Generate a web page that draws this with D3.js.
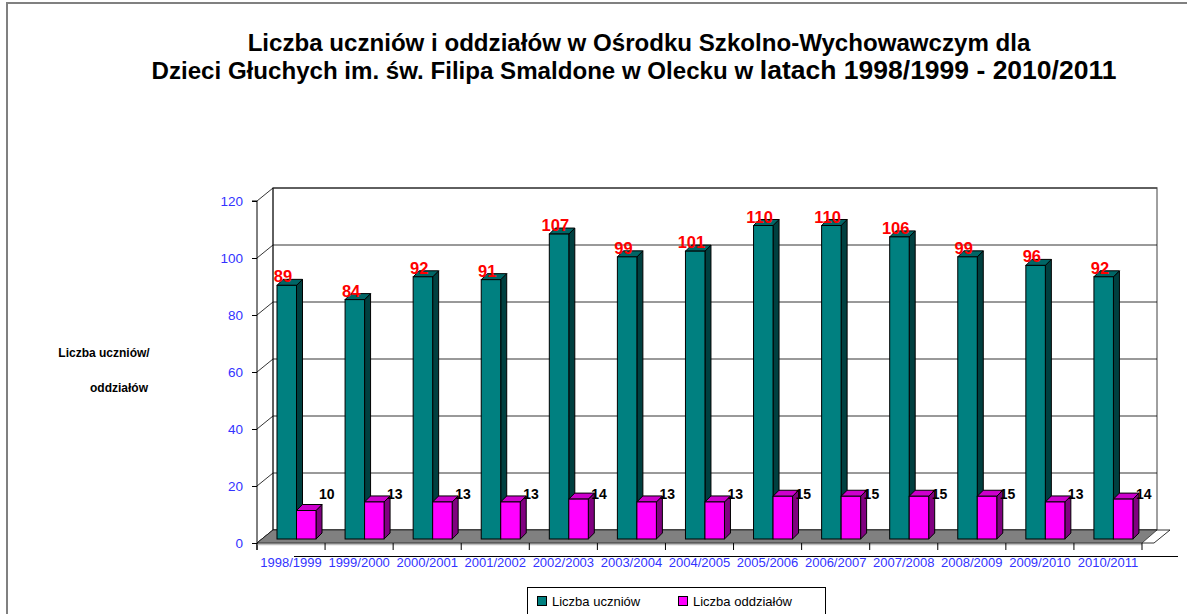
<!DOCTYPE html>
<html>
<head>
<meta charset="utf-8">
<script src="https://cdn.jsdelivr.net/npm/d3@7"></script>
<style>
  body { margin: 0; background: #fff; }
  svg { display: block; font-family: "Liberation Sans", Arial, sans-serif; }
</style>
</head>
<body>
<div id="vis"></div>
<script>
// chart data
const YEARS = ["1998/1999", "1999/2000", "2000/2001", "2001/2002", "2002/2003", "2003/2004",
               "2004/2005", "2005/2006", "2006/2007", "2007/2008", "2008/2009", "2009/2010", "2010/2011"];
const UCZNIOWIE = [89, 84, 92, 91, 107, 99, 101, 110, 110, 106, 99, 96, 92];
const ODDZIALY = [10, 13, 13, 13, 14, 13, 13, 15, 15, 15, 15, 13, 14];
const Y_TICKS = [0, 20, 40, 60, 80, 100, 120];
const SERIES = ["Liczba uczniów", "Liczba oddziałów"];

const FRAME_WIDTH = 1187;
const FRAME_HEIGHT = 614;
const DEPTH = {dx: 16, dy: -13};   // back wall offset
const BAR_D = 6;                   // bar depth

const COLORS = {
  teal: {front: "#008080", side: "#004040", top: "#006666"},
  mag:  {front: "#ff00ff", side: "#800080", top: "#cc00cc"}
};

const svg = d3.select("#vis")
  .append("svg")
    .attr("width", FRAME_WIDTH)
    .attr("height", FRAME_HEIGHT);

// outer frame (only left and top visible)
svg.append("path")
  .attr("d", "M7,614 L7,3 L1187,3")
  .attr("fill", "none")
  .attr("stroke", "#808080")
  .attr("stroke-width", 2);

// title
const title = svg.append("text")
  .attr("text-anchor", "middle")
  .attr("font-weight", "bold")
  .attr("font-size", "24.1px");
title.append("tspan").attr("x", 639).attr("y", 51)
  .text("Liczba uczniów i oddziałów w Ośrodku Szkolno-Wychowawczym dla");
title.append("tspan").attr("x", 634).attr("y", 79)
  .text("Dzieci Głuchych im. św. Filipa Smaldone w Olecku w ")
  .append("tspan").attr("font-size", "26.5px").text("latach 1998/1999 - 2010/2011");

// scales
const X = d3.scaleBand().domain(YEARS).range([257, 1142]);
const Y = d3.scaleLinear().domain([0, 120]).range([543, 201]);       // front plane
const YB = d3.scaleLinear().domain([0, 120]).range([539, 197]);      // bar plane
const SUB = d3.scaleBand().domain(SERIES).range([20, 59]);

// back wall
const wallL = X.range()[0] + DEPTH.dx, wallR = 1157;
svg.append("rect")
  .attr("x", wallL).attr("y", Y(120) + DEPTH.dy)
  .attr("width", wallR - wallL).attr("height", Y(0) - Y(120))
  .attr("fill", "#fff").attr("stroke", "#808080").attr("stroke-width", 1.5);

// gridlines on back wall + side wall diagonals
Y_TICKS.forEach((t) => {
  if (t > 0) {
    svg.append("line")
      .attr("x1", wallL).attr("x2", wallR)
      .attr("y1", Y(t) + DEPTH.dy).attr("y2", Y(t) + DEPTH.dy)
      .attr("stroke", "#000").attr("stroke-width", 0.8);
  }
  svg.append("line")
    .attr("x1", X.range()[0]).attr("y1", Y(t))
    .attr("x2", wallL).attr("y2", Y(t) + DEPTH.dy)
    .attr("stroke", "#000").attr("stroke-width", 0.8);
});
svg.append("line")
  .attr("x1", wallL).attr("x2", wallL)
  .attr("y1", Y(120) + DEPTH.dy).attr("y2", Y(0) + DEPTH.dy)
  .attr("stroke", "#000").attr("stroke-width", 0.8);

// floor
const x0 = X.range()[0], x1 = X.range()[1];
svg.append("path")
  .attr("d", `M${x0},${Y(0)} L${x0 + DEPTH.dx},${Y(0) + DEPTH.dy} L${x1 + 28},${Y(0) + DEPTH.dy} L${x1 + 12},${Y(0)} Z`)
  .attr("fill", "#fff").attr("stroke", "#000").attr("stroke-width", 0.8);
svg.append("path")
  .attr("d", `M${x0},${Y(0)} L${x0 + DEPTH.dx},${Y(0) + DEPTH.dy} L${wallR},${Y(0) + DEPTH.dy} L${x1},${Y(0)} Z`)
  .attr("fill", "#808080").attr("stroke", "#000").attr("stroke-width", 0.6);

// y axis
svg.append("g")
  .attr("transform", "translate(" + x0 + ",0)")
  .call(d3.axisLeft(Y).tickValues(Y_TICKS).tickSize(5).tickPadding(9))
  .call((g) => g.select(".domain").attr("d", `M-5,${Y(120)}H0V${Y(0) + 7}`))
  .call((g) => g.selectAll("text").attr("fill", "#3333ff").attr("font-size", "13.5px")
                 .attr("font-family", "Liberation Sans, Arial, sans-serif"));

// category axis
svg.append("line")
  .attr("x1", x0).attr("x2", x1).attr("y1", Y(0) + 1.5).attr("y2", Y(0) + 1.5)
  .attr("stroke", "#c0c0c0").attr("stroke-width", 1.5);
svg.selectAll("line.ctick")
  .data(YEARS.concat(["end"]))
  .enter()
  .append("line")
    .attr("class", "ctick")
    .attr("x1", (d, i) => x0 + i * X.bandwidth())
    .attr("x2", (d, i) => x0 + i * X.bandwidth())
    .attr("y1", Y(0)).attr("y2", Y(0) + 7)
    .attr("stroke", "#000");
svg.append("g")
  .attr("transform", "translate(0," + (Y(0) + 5) + ")")
  .call(d3.axisBottom(X).tickSize(0).tickPadding(10))
  .call((g) => g.select(".domain").remove())
  .call((g) => g.selectAll("text").attr("fill", "#3333ff").attr("font-size", "13px")
                 .attr("font-family", "Liberation Sans, Arial, sans-serif"));
svg.append("line")
  .attr("x1", 294).attr("x2", 1178).attr("y1", 556.5).attr("y2", 556.5)
  .attr("stroke", "#000").attr("stroke-width", 1);

// 3D bars
function bar3d(g, x, w, v, c) {
  const yt = YB(v), yb = YB(0);
  g.append("path")
    .attr("d", `M${x + w},${yb} L${x + w + BAR_D},${yb - BAR_D} L${x + w + BAR_D},${yt - BAR_D} L${x + w},${yt} Z`)
    .attr("fill", c.side).attr("stroke", "#000").attr("stroke-width", 1);
  g.append("path")
    .attr("d", `M${x},${yt} L${x + BAR_D},${yt - BAR_D} L${x + w + BAR_D},${yt - BAR_D} L${x + w},${yt} Z`)
    .attr("fill", c.top).attr("stroke", "#000").attr("stroke-width", 1);
  g.append("rect")
    .attr("x", x).attr("y", yt).attr("width", w).attr("height", yb - yt)
    .attr("fill", c.front).attr("stroke", "#000").attr("stroke-width", 1);
}

const bars = svg.append("g");
YEARS.forEach((yr, i) => {
  bar3d(bars, X(yr) + SUB(SERIES[0]), SUB.bandwidth(), UCZNIOWIE[i], COLORS.teal);
  bar3d(bars, X(yr) + SUB(SERIES[1]), SUB.bandwidth(), ODDZIALY[i], COLORS.mag);
});

// value labels
svg.selectAll("text.lu")
  .data(UCZNIOWIE)
  .enter()
  .append("text")
    .attr("class", "lu")
    .attr("x", (d, i) => X(YEARS[i]) + SUB(SERIES[0]) + 6)
    .attr("y", (d) => YB(d) - 3)
    .attr("text-anchor", "middle")
    .attr("fill", "#ff0000")
    .attr("font-weight", "bold")
    .attr("font-size", "16.5px")
    .text((d) => d);

svg.selectAll("text.lo")
  .data(ODDZIALY)
  .enter()
  .append("text")
    .attr("class", "lo")
    .attr("x", (d, i) => X(YEARS[i]) + 62)
    .attr("y", 499)
    .attr("fill", "#000")
    .attr("font-weight", "bold")
    .attr("font-size", "14px")
    .text((d) => d);

// y axis title
const yt = svg.append("text")
  .attr("font-weight", "bold")
  .attr("font-size", "12px")
  .attr("text-anchor", "middle");
yt.append("tspan").attr("x", 104).attr("y", 357).text("Liczba uczniów/");
yt.append("tspan").attr("x", 119).attr("y", 392).text("oddziałów");

// legend
const leg = svg.append("g");
leg.append("rect")
  .attr("x", 527.5).attr("y", 587.5).attr("width", 298).attr("height", 40)
  .attr("fill", "#fff").attr("stroke", "#000");
[{c: COLORS.teal.front, x: 537}, {c: COLORS.mag.front, x: 678}].forEach((it, i) => {
  leg.append("rect")
    .attr("x", it.x + 0.5).attr("y", 596.5).attr("width", 9).attr("height", 9)
    .attr("fill", it.c).attr("stroke", "#000");
  leg.append("text")
    .attr("x", it.x + 15).attr("y", 605.5)
    .attr("font-size", "13px")
    .text(SERIES[i]);
});
</script>
</body>
</html>
